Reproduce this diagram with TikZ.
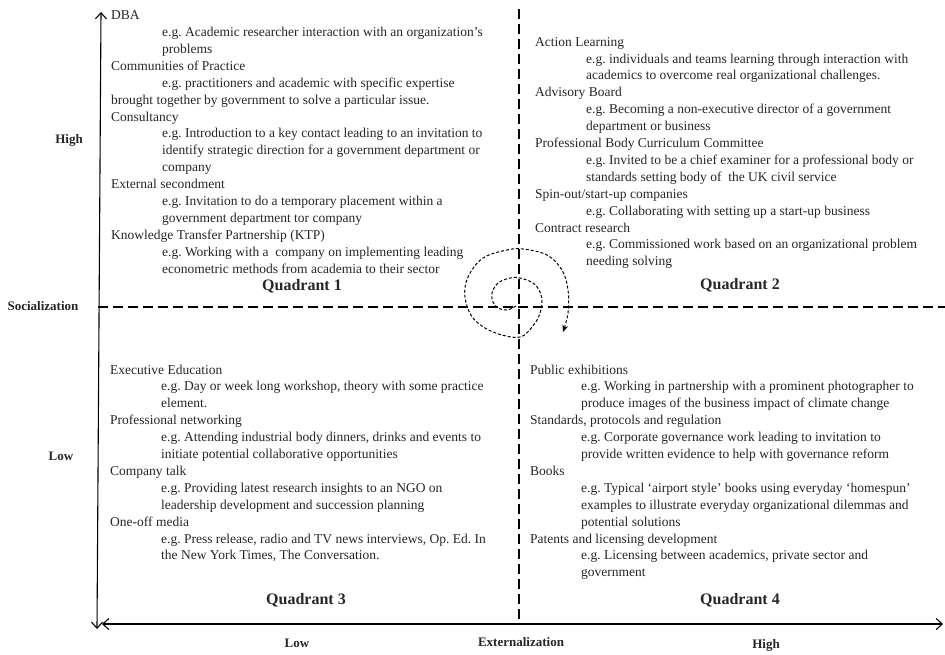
\documentclass[tikz,border=0pt]{standalone}
\usepackage{fontspec}
\setmainfont{Liberation Serif}
\usetikzlibrary{arrows.meta}

\tikzset{
  axisline/.style={line width=1.1pt, {Straight Barb[length=6pt,width=11pt]}-{Straight Barb[length=6pt,width=11pt]}},
  quadline/.style={line width=1.1pt, dash pattern=on 10pt off 5pt},
  spiral/.style={line width=1pt, dash pattern=on 3pt off 2pt, -{Stealth[length=7pt,width=6pt]}},
  itemtext/.style={anchor=north west, align=left, inner sep=0pt, text=black!85,
    font=\fontsize{13.5}{16.9}\selectfont\frenchspacing},
  quadtitle/.style={font=\fontsize{16}{18}\selectfont\bfseries, text=black!85},
  axislabel/.style={font=\fontsize{13}{15}\selectfont\bfseries, text=black!85}
}
\newcommand{\egline}[1]{\hspace*{51pt}#1}

\begin{document}
\begin{tikzpicture}[x=1pt, y=-1pt]
  \useasboundingbox (0,0) rectangle (945,654);

  % quadrant dividers
  \coordinate (vtop) at (519,9);
  \coordinate (vbot) at (519,624);
  \coordinate (hleft) at (98,307);
  \coordinate (hright) at (945,307);
  \draw[quadline] (vtop) -- (vbot);
  \draw[quadline] (hleft) -- (hright);

  % axes
  \coordinate (yup) at (101,12);
  \coordinate (ydown) at (97,629);
  \coordinate (xleft) at (102,624);
  \coordinate (xright) at (943,624);
  \draw[axisline] (ydown) -- (yup);
  \draw[axisline] (xleft) -- (xright);

  % spiral
  \draw[spiral] plot[smooth, tension=0.6] coordinates {
    (516,306) (507,310) (498,308) (493,302) (492,293) (498,283) (510,278)
    (520,278) (533,283) (540,292) (542,302) (540,313) (535,323) (520,337)
    (493,332) (473,318) (465,297) (468,277) (483,258) (507,250) (523,249)
    (547,255) (562,270) (568,290) (568,313) (563,332)};

  % axis labels
  \node[axislabel] (yhigh) at (69,140) {High};
  \node[axislabel] (ylabel) at (43,306) {Socialization};
  \node[axislabel] (ylow) at (61,456) {Low};
  \node[axislabel] (xlow) at (297,643) {Low};
  \node[axislabel] (xlabel) at (521,642) {Externalization};
  \node[axislabel] (xhigh) at (766,645) {High};

  % quadrant 1
  \node[itemtext] (q1text) at (111,10.5) {DBA\\
    \egline{e.g. Academic researcher interaction with an organization’s}\\
    \egline{problems}\\
    Communities of Practice\\
    \egline{e.g. practitioners and academic with specific expertise}\\
    brought together by government to solve a particular issue.\\
    Consultancy\\
    \egline{e.g. Introduction to a key contact leading to an invitation to}\\
    \egline{identify strategic direction for a government department or}\\
    \egline{company}\\
    External secondment\\
    \egline{e.g. Invitation to do a temporary placement within a}\\
    \egline{government department tor company}\\
    Knowledge Transfer Partnership (KTP)\\
    \egline{e.g. Working with a\ \ company on implementing leading}\\
    \egline{econometric methods from academia to their sector}};
  \node[quadtitle] (q1) at (302,286) {Quadrant 1};

  % quadrant 2
  \node[itemtext] (q2text) at (535,37) {Action Learning\\
    \egline{e.g. individuals and teams learning through interaction with}\\
    \egline{academics to overcome real organizational challenges.}\\
    Advisory Board\\
    \egline{e.g. Becoming a non-executive director of a government}\\
    \egline{department or business}\\
    Professional Body Curriculum Committee\\
    \egline{e.g. Invited to be a chief examiner for a professional body or}\\
    \egline{standards setting body of\ \ the UK civil service}\\
    Spin-out/start-up companies\\
    \egline{e.g. Collaborating with setting up a start-up business}\\
    Contract research\\
    \egline{e.g. Commissioned work based on an organizational problem}\\
    \egline{needing solving}};
  \node[quadtitle] (q2) at (740,285) {Quadrant 2};

  % quadrant 3
  \node[itemtext] (q3text) at (110,364.5) {Executive Education\\
    \egline{e.g. Day or week long workshop, theory with some practice}\\
    \egline{element.}\\
    Professional networking\\
    \egline{e.g. Attending industrial body dinners, drinks and events to}\\
    \egline{initiate potential collaborative opportunities}\\
    Company talk\\
    \egline{e.g. Providing latest research insights to an NGO on}\\
    \egline{leadership development and succession planning}\\
    One-off media\\
    \egline{e.g. Press release, radio and TV news interviews, Op. Ed. In}\\
    \egline{the New York Times, The Conversation.}};
  \node[quadtitle] (q3) at (306,600) {Quadrant 3};

  % quadrant 4
  \node[itemtext] (q4text) at (530,364.5) {Public exhibitions\\
    \egline{e.g. Working in partnership with a prominent photographer to}\\
    \egline{produce images of the business impact of climate change}\\
    Standards, protocols and regulation\\
    \egline{e.g. Corporate governance work leading to invitation to}\\
    \egline{provide written evidence to help with governance reform}\\
    Books\\
    \egline{e.g. Typical ‘airport style’ books using everyday ‘homespun’}\\
    \egline{examples to illustrate everyday organizational dilemmas and}\\
    \egline{potential solutions}\\
    Patents and licensing development\\
    \egline{e.g. Licensing between academics, private sector and}\\
    \egline{government}};
  \node[quadtitle] (q4) at (740,600) {Quadrant 4};
\end{tikzpicture}
\end{document}
